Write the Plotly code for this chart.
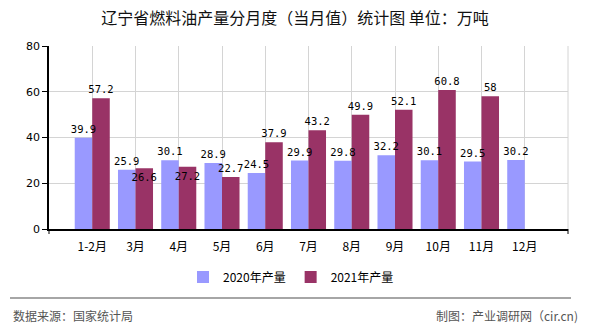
import plotly.graph_objects as go

categories = ["1-2月", "3月", "4月", "5月", "6月", "7月", "8月", "9月", "10月", "11月", "12月"]
values_2020 = [39.9, 25.9, 30.1, 28.9, 24.5, 29.9, 29.8, 32.2, 30.1, 29.5, 30.2]
values_2021 = [57.2, 26.6, 27.2, 22.7, 37.9, 43.2, 49.9, 52.1, 60.8, 58, None]
name_2020 = "2020年产量"
name_2021 = "2021年产量"
title_text = "辽宁省燃料油产量分月度（当月值）统计图 单位：万吨"
source_text = "数据来源：国家统计局"
credit_text = "制图：产业调研网（cir.cn)"

W, H = 590, 330
L, R, T, B = 49, 22, 46, 101
pw, ph = W - L - R, H - T - B

def px_x(x):
    return (x - L) / pw

def px_y(y):
    return (H - B - y) / ph

label_font = dict(family="DejaVu Sans Mono, monospace", size=10.5, color="#000000")

def fmt(v):
    if v is None:
        return ""
    return ("%g" % v)

# labels for 3月 and 4月 of 2021 sit just below the bar top in the reference
pos_2020 = ["outside"] * len(categories)
pos_2021 = ["inside" if c in ("3月", "4月") else "outside" for c in categories]

series = [
    (name_2020, values_2020, "#9999FF", "g2020", pos_2020),
    (name_2021, values_2021, "#993366", "g2021", pos_2021),
]

fig = go.Figure()
# real bars (no text)
for name, vals, color, grp, _ in series:
    fig.add_trace(go.Bar(
        x=categories, y=vals, name=name, offsetgroup=grp,
        marker=dict(color=color, line=dict(width=0)),
        hoverinfo="skip",
    ))
# transparent copies carrying the value labels, drawn on top of all bars
for name, vals, color, grp, pos in series:
    fig.add_trace(go.Bar(
        x=categories, y=vals, name=name, offsetgroup=grp, showlegend=False,
        marker=dict(color="rgba(0,0,0,0)", line=dict(width=0)),
        text=[fmt(v) for v in vals], textposition=pos,
        textfont=label_font, outsidetextfont=label_font, insidetextfont=label_font,
        insidetextanchor="end",
        textangle=0, constraintext="none", cliponaxis=False,
        hoverinfo="skip",
    ))

grid = "#d4d4d4"
fig.update_layout(
    width=W, height=H,
    margin=dict(l=L, r=R, t=T, b=B, pad=0),
    paper_bgcolor="white", plot_bgcolor="white",
    barmode="group", bargap=0.19, bargroupgap=0,
    font=dict(family="Noto Sans CJK SC, Noto Sans, sans-serif", color="#000000"),
    title=dict(text=title_text, x=0.5, xanchor="center", xref="container",
               y=1 - 18 / H, yanchor="middle", yref="container",
               font=dict(size=16, color="#111111",
                         family="Noto Sans CJK SC, sans-serif")),
    showlegend=True,
    legend=dict(orientation="h", x=px_x(291), xanchor="center",
                y=px_y(277), yanchor="middle",
                font=dict(size=12, color="#000000",
                          family="Noto Sans CJK SC, sans-serif"),
                itemwidth=30, traceorder="normal", bgcolor="rgba(0,0,0,0)"),
    xaxis=dict(
        type="category", range=[-1, len(categories)],
        showgrid=True, gridcolor=grid, gridwidth=1,
        showline=True, linecolor="#000000", linewidth=1.5,
        ticks="", ticklabelstandoff=6,
        tickfont=dict(size=12, color="#000000",
                      family="Noto Sans CJK SC, sans-serif"),
        zeroline=False, fixedrange=True,
    ),
    yaxis=dict(
        range=[0, 80], dtick=20, tick0=0,
        showgrid=True, gridcolor=grid, gridwidth=1,
        showline=True, linecolor="#000000", linewidth=1.5,
        ticks="outside", ticklen=5, tickcolor="#000000", tickwidth=1,
        tickfont=dict(size=11, color="#000000",
                      family="DejaVu Sans, sans-serif"),
        zeroline=False, fixedrange=True,
    ),
    shapes=[
        # right border of plot area
        dict(type="line", xref="paper", yref="paper", x0=1, x1=1, y0=0, y1=1,
             line=dict(color=grid, width=1)),
        # end ticks on x axis
        dict(type="line", xref="paper", yref="paper", x0=0, x1=0, y0=0, y1=-5 / ph,
             line=dict(color="#000000", width=1)),
        dict(type="line", xref="paper", yref="paper", x0=1, x1=1, y0=0, y1=-5 / ph,
             line=dict(color="#000000", width=1)),
        # footer separator
        dict(type="line", xref="paper", yref="paper", x0=px_x(10), x1=px_x(571),
             y0=px_y(298), y1=px_y(298), line=dict(color="#888888", width=1.5)),
    ],
    annotations=[
        dict(text=source_text, xref="paper", yref="paper", x=px_x(11), y=px_y(315),
             xanchor="left", yanchor="middle", showarrow=False,
             font=dict(size=12, color="#555555",
                       family="Noto Sans CJK SC, sans-serif")),
        dict(text=credit_text, xref="paper", yref="paper", x=px_x(580), y=px_y(315),
             xanchor="right", yanchor="middle", showarrow=False,
             font=dict(size=12, color="#555555",
                       family="Noto Sans CJK SC, sans-serif")),
    ],
)

fig.write_html("out.html", include_plotlyjs=True, config={"displayModeBar": False})
